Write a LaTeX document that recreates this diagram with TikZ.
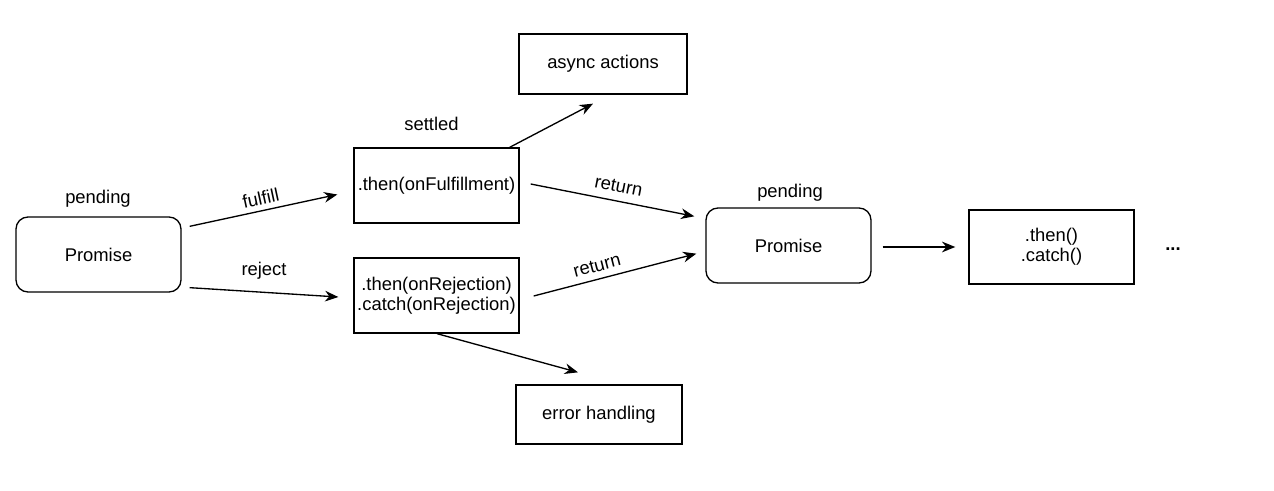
\documentclass[tikz,border=0pt]{standalone}
\usepackage{fontspec}
\setmainfont{Liberation Sans}
\usetikzlibrary{arrows.meta, positioning}

\tikzset{
  box/.style={draw, line width=1pt, minimum width=123.75pt, minimum height=56.25pt, align=center, inner sep=0pt},
  state/.style={box, rounded corners=9pt},
  lbl/.style={inner sep=0pt},
  flow/.style={-{Stealth[length=10pt, width=8pt]}, line width=1pt},
}

\begin{document}
\begin{tikzpicture}[x=0.75pt, y=-0.75pt, font=\fontsize{13.8}{15}\selectfont]
  \useasboundingbox (0,0) rectangle (1274,491);
  % promise states
  \node[state] (p1) at (98.5,254.5) {Promise};
  \node[state] (p2) at (788.5,245.5) {Promise};
  \node[lbl] (pend1) at (98,199) {pending};
  \node[lbl] (pend2) at (790,193) {pending};
  % handlers
  \node[box] (then) at (436.5,185.5) {.then(onFulfillment)};
  \node[box] (catch) at (436.5,295.5) {.then(onRejection)\\.catch(onRejection)};
  \node[lbl] (settled) at (431.5,124) {settled};
  \node[box, minimum width=126pt, minimum height=45pt] (async) at (603,64) {async actions};
  \node[box, minimum width=124.5pt, minimum height=44.25pt] (err) at (599,414.5) {error handling};
  \node[box, minimum height=55.5pt] (chain) at (1051.5,247) {.then()\\.catch()};
  \node[lbl] (more) at (1173,249) {\textbf{...}};

  \draw[flow] ([shift={(8,10)}]p1.north east) -- node[lbl, sloped, above=4pt] {fulfill} ([shift={(-16,9)}]then.west);
  \draw[flow] ([shift={(8,-5)}]p1.south east) -- node[lbl, above=9pt] {reject} ([shift={(-15,1.5)}]catch.west);
  \draw[flow] ([shift={(-10,0)}]then.north east) -- ([shift={(-10,9)}]async.south);
  \draw[flow] ([shift={(11,-1.5)}]then.east) -- node[lbl, sloped, above=6pt, pos=0.52] {return} ([shift={(-11,9)}]p2.north west);
  \draw[flow] ([shift={(14,0.5)}]catch.east) -- node[lbl, sloped, above=5pt, pos=0.41] {return} ([shift={(-9,-30)}]p2.south west);
  \draw[flow] ([shift={(0.5,0)}]catch.south) -- ([shift={(-21,-12)}]err.north);
  \draw[flow] ([shift={(11,1.5)}]p2.east) -- ([shift={(-13,0)}]chain.west);
\end{tikzpicture}
\end{document}
